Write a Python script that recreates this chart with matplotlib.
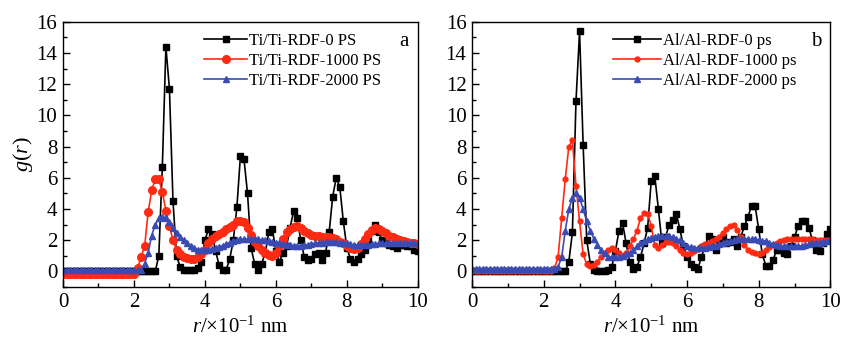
import numpy as np
import matplotlib.pyplot as plt

plt.rcParams['font.family'] = ['Liberation Serif', 'DejaVu Serif']
plt.rcParams['mathtext.fontset'] = 'custom'
plt.rcParams['mathtext.rm'] = 'Liberation Serif'
plt.rcParams['mathtext.it'] = 'Liberation Serif:italic'

# r in units of 0.1 nm, step 0.1
r = np.round(np.arange(0, 10.01, 0.1), 1)

# panel a : Ti/Ti
ti_0 = [0.0] * 27 + [
    1.0, 6.7, 14.4, 11.7, 4.5, 1.0, 0.3, 0.1, 0.1, 0.1,
    0.1, 0.2, 0.6, 2.0, 2.7, 2.4, 1.3, 0.4, 0.1, 0.1,
    0.8, 2.0, 4.1, 7.4, 7.2, 5.0, 1.5, 0.5, 0.1, 0.5,
    1.2, 2.5, 2.7, 1.3, 0.6, 1.2, 1.6, 2.8, 3.9, 3.4,
    2.0, 0.9, 0.7, 0.8, 1.1, 1.2, 0.7, 1.2, 2.5, 4.8,
    6.0, 5.4, 3.2, 1.5, 0.8, 0.6, 0.8, 1.1, 1.4, 2.0,
    2.6, 3.0, 2.5, 2.0, 1.8, 1.7, 1.6, 1.5, 1.7, 1.7,
    1.6, 1.6, 1.4, 1.3]
ti_1000 = [-0.15] * 21 + [
    0.2, 0.9, 1.6, 3.8, 5.2, 5.9, 5.9, 5.1, 3.9, 2.9,
    2.0, 1.4, 1.1, 0.95, 0.85, 0.8, 0.8, 0.9, 1.1, 1.4,
    1.8, 2.1, 2.3, 2.4, 2.55, 2.7, 2.85, 3.0, 3.2, 3.25,
    3.15, 2.8, 2.35, 1.9, 1.6, 1.35, 1.2, 1.05, 1.0, 1.15,
    1.6, 2.1, 2.5, 2.7, 2.85, 2.9, 2.8, 2.6, 2.45, 2.35,
    2.3, 2.25, 2.2, 2.2, 2.2, 2.15, 2.05, 1.9, 1.8, 1.6,
    1.5, 1.45, 1.5, 1.75, 2.1, 2.4, 2.65, 2.75, 2.7, 2.6,
    2.45, 2.3, 2.2, 2.1, 2.0, 1.95, 1.9, 1.85, 1.8, 1.75]
ti_2000 = [0.1] * 23 + [
    0.5, 1.2, 2.3, 3.0, 3.4, 3.5, 3.45, 3.15, 2.75, 2.45,
    2.2, 2.0, 1.8, 1.6, 1.5, 1.4, 1.4, 1.4, 1.4, 1.45,
    1.5, 1.55, 1.65, 1.75, 1.85, 1.95, 2.0, 2.05, 2.05, 2.05,
    2.05, 2.05, 2.05, 2.0, 2.0, 1.95, 1.9, 1.85, 1.8, 1.75,
    1.7, 1.7, 1.65, 1.65, 1.65, 1.7, 1.7, 1.75, 1.8, 1.85,
    1.85, 1.9, 1.9, 1.9, 1.9, 1.85, 1.85, 1.8, 1.75, 1.7,
    1.7, 1.7, 1.7, 1.7, 1.75, 1.75, 1.8, 1.8, 1.8, 1.8,
    1.8, 1.8, 1.8, 1.8, 1.8, 1.8, 1.8, 1.8]

# panel b : Al/Al
al_0 = [0.0] * 27 + [
    0.6, 2.5, 10.9, 15.4, 8.1, 2.0, 0.5, 0.1, 0.05, 0.05,
    0.05, 0.1, 0.3, 1.3, 2.6, 3.1, 1.8, 0.6, 0.15, 0.3,
    0.9, 1.8, 2.8, 5.8, 6.1, 4.0, 1.8, 2.2, 3.0, 3.3,
    3.7, 2.7, 1.6, 0.9, 0.5, 0.25, 0.15, 0.9, 1.6, 2.3,
    2.05, 1.4, 1.9, 2.2, 1.85, 1.9, 2.05, 1.6, 2.2, 2.9,
    3.5, 4.2, 4.2, 2.7, 1.1, 0.35, 0.35, 0.7, 1.4, 1.4,
    1.2, 1.1, 1.6, 2.2, 2.9, 3.2, 3.2, 2.8, 2.0, 1.4,
    1.3, 1.8, 2.4, 2.7]
al_1000 = [0.0] * 23 + [
    0.2, 0.9, 3.4, 5.9, 8.0, 8.4, 5.5, 3.2, 1.1, 0.45,
    0.35, 0.4, 0.6, 0.95, 1.2, 1.4, 1.5, 1.4, 1.15, 1.0,
    1.15, 1.6, 2.05, 2.6, 3.4, 3.75, 3.7, 2.9, 1.7, 1.5,
    1.7, 1.9, 1.9, 1.8, 1.65, 1.4, 1.2, 1.1, 1.15, 1.3,
    1.45, 1.6, 1.75, 1.85, 1.95, 2.05, 2.2, 2.45, 2.7, 2.9,
    2.95, 2.65, 2.2, 1.7, 1.4, 1.25, 1.15, 1.1, 1.2, 1.35,
    1.55, 1.7, 1.85, 1.95, 2.0, 2.05, 2.05, 2.05, 2.05, 2.05,
    2.05, 2.05, 2.05, 2.0, 2.0, 2.0, 2.0, 2.0]
al_2000 = [0.15] * 24 + [
    0.3, 0.9, 2.6, 4.0, 4.7, 5.0, 4.7, 4.0, 3.2, 2.6,
    2.1, 1.7, 1.35, 1.15, 0.95, 0.9, 0.9, 0.92, 1.0, 1.1,
    1.2, 1.4, 1.6, 1.8, 1.95, 2.05, 2.15, 2.2, 2.25, 2.25,
    2.25, 2.25, 2.2, 2.05, 2.0, 1.8, 1.65, 1.55, 1.5, 1.5,
    1.5, 1.5, 1.55, 1.6, 1.65, 1.75, 1.85, 1.9, 1.95, 2.0,
    2.05, 2.1, 2.1, 2.05, 2.05, 2.05, 2.0, 1.95, 1.95, 1.85,
    1.75, 1.7, 1.65, 1.6, 1.6, 1.6, 1.6, 1.6, 1.65, 1.7,
    1.75, 1.8, 1.85, 1.85, 1.9, 1.95, 1.95]

labels_a = ['Ti/Ti-RDF-0 PS', 'Ti/Ti-RDF-1000 PS', 'Ti/Ti-RDF-2000 PS']
labels_b = ['Al/Al-RDF-0 ps', 'Al/Al-RDF-1000 ps', 'Al/Al-RDF-2000 ps']

black = '#000000'
red = '#ff2a12'
blue = '#3a4cb4'

fig = plt.figure(figsize=(8.43, 3.47), dpi=100)
ax1 = fig.add_axes([0.0747, 0.173, 0.421, 0.764])
ax2 = fig.add_axes([0.560, 0.173, 0.425, 0.764])


def style_axis(ax):
    ax.set_xlim(0, 10)
    ax.set_ylim(-1, 16)
    ax.set_xticks(range(0, 11, 2))
    ax.set_yticks(range(0, 17, 2))
    ax.set_xticks(range(0, 11), minor=True)
    ax.set_yticks(range(-1, 17), minor=True)
    ax.tick_params(which='both', direction='in', top=False, right=False,
                   labelsize=15, width=1.0)
    ax.tick_params(which='major', length=5, pad=4)
    ax.tick_params(which='minor', length=3)
    for s in ax.spines.values():
        s.set_linewidth(1.0)
    ax.set_xlabel(r'$r$/×10$^{-1}$ nm', fontsize=15, labelpad=4)


# panel a
ax1.plot(r, ti_0, '-s', color=black, ms=4.5, lw=1.2, label=labels_a[0])
ax1.plot(r, ti_1000, '-o', color=red, ms=5.5, lw=1.2, label=labels_a[1])
ax1.plot(r, ti_2000, '-^', color=blue, ms=4, lw=1.2, label=labels_a[2])
style_axis(ax1)
ax1.set_ylabel(r'$g$($r$)', fontsize=16, labelpad=1)
ax1.legend(loc='upper left', bbox_to_anchor=(0.36, 1.01), frameon=False,
           fontsize=12, handlelength=2.6, handletextpad=0.1,
           labelspacing=0.25, borderaxespad=0.4)
ax1.text(0.975, 0.925, 'a', transform=ax1.transAxes, fontsize=15,
         ha='right', va='center')

# panel b
ax2.plot(r, al_0, '-s', color=black, ms=4.5, lw=1.2, label=labels_b[0])
ax2.plot(r, al_1000, '-o', color=red, ms=3.5, lw=1.2, label=labels_b[1])
ax2.plot(r, al_2000, '-^', color=blue, ms=4, lw=1.2, label=labels_b[2])
style_axis(ax2)
ax2.legend(loc='upper left', bbox_to_anchor=(0.355, 1.01), frameon=False,
           fontsize=12, handlelength=2.9, handletextpad=0.1,
           labelspacing=0.25, borderaxespad=0.4)
ax2.text(0.975, 0.925, 'b', transform=ax2.transAxes, fontsize=15,
         ha='right', va='center')

fig.savefig('out.png', dpi=100)
